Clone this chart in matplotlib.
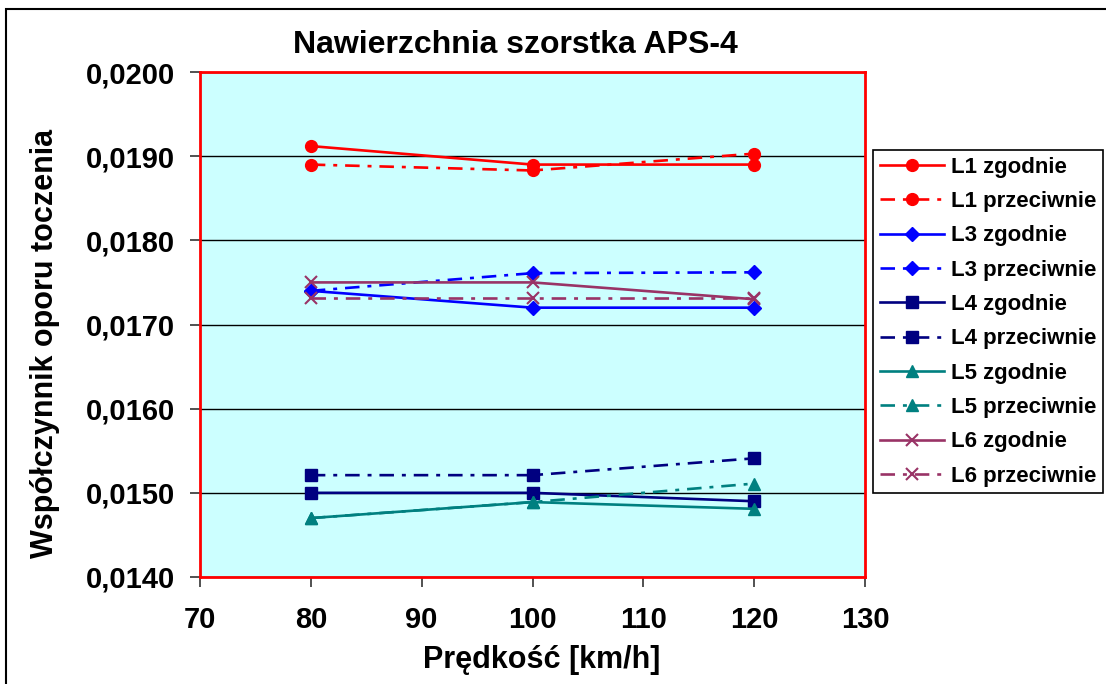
import matplotlib
matplotlib.use("Agg")
import matplotlib.pyplot as plt
from matplotlib.patches import Rectangle

plt.rcParams['font.family'] = ['Liberation Sans', 'DejaVu Sans']
plt.rcParams['font.weight'] = 'bold'

speeds = [80, 100, 120]
labels = ["L1 zgodnie", "L1 przeciwnie", "L3 zgodnie", "L3 przeciwnie",
          "L4 zgodnie", "L4 przeciwnie", "L5 zgodnie", "L5 przeciwnie",
          "L6 zgodnie", "L6 przeciwnie"]
L1_zgodnie = [0.01912, 0.01890, 0.01890]
L1_przeciwnie = [0.01890, 0.01883, 0.01903]
L3_zgodnie = [0.01740, 0.01720, 0.01720]
L3_przeciwnie = [0.01740, 0.01761, 0.01762]
L4_zgodnie = [0.01500, 0.01500, 0.01490]
L4_przeciwnie = [0.01521, 0.01521, 0.01541]
L5_zgodnie = [0.01470, 0.01489, 0.01481]
L5_przeciwnie = [0.01470, 0.01489, 0.01511]
L6_zgodnie = [0.01750, 0.01750, 0.01730]
L6_przeciwnie = [0.01731, 0.01731, 0.01731]
yticks = [0.0140, 0.0150, 0.0160, 0.0170, 0.0180, 0.0190, 0.0200]
ytick_labels = ["0,0140", "0,0150", "0,0160", "0,0170", "0,0180", "0,0190", "0,0200"]
xticks = [70, 80, 90, 100, 110, 120, 130]

series = [L1_zgodnie, L1_przeciwnie, L3_zgodnie, L3_przeciwnie, L4_zgodnie,
          L4_przeciwnie, L5_zgodnie, L5_przeciwnie, L6_zgodnie, L6_przeciwnie]
colors = ['#FF0000', '#FF0000', '#0000FF', '#0000FF', '#000080', '#000080',
          '#008080', '#008080', '#993366', '#993366']
markers = ['o', 'o', 'D', 'D', 's', 's', '^', '^', 'x', 'x']
msizes = [8.5, 8.5, 7.5, 7.5, 8.5, 8.5, 9, 9, 8, 8]
dashdot = (0, (5.5, 3, 1.5, 3))

W, H = 1106, 684
fig = plt.figure(figsize=(W / 100, H / 100), dpi=100)
fig.patch.set_facecolor('white')
fig.patches.append(Rectangle((6 / W, -0.1), 1.2, 1 - 9 / H + 0.1, transform=fig.transFigure,
                             fill=False, edgecolor='black', linewidth=1.5, zorder=0))

ax = fig.add_axes([200 / W, 1 - 577 / H, (865 - 200) / W, (577 - 72) / H])
ax.set_facecolor('#CCFFFF')

for i, (vals, lab) in enumerate(zip(series, labels)):
    ls = '-' if i % 2 == 0 else dashdot
    ax.plot(speeds, vals, color=colors[i], linestyle=ls, linewidth=1.9,
            marker=markers[i], markersize=msizes[i], markeredgewidth=1.5 if markers[i] == 'x' else 1,
            label=lab, zorder=3)

ax.set_xlim(70, 130)
ax.set_ylim(0.0140, 0.0200)
ax.set_xticks(xticks)
ax.set_xticklabels([str(x) for x in xticks])
ax.set_yticks(yticks)
ax.set_yticklabels(ytick_labels)
ax.yaxis.grid(True, color='black', linewidth=1.0)
ax.set_axisbelow(True)
for s in ax.spines.values():
    s.set_color('#FF0000')
    s.set_linewidth(2)
ax.tick_params(axis='both', direction='out', length=7, width=1.2, color='#333333',
               labelsize=21)
ax.tick_params(axis='y', pad=11)
ax.tick_params(axis='x', pad=14)
for t in ax.get_xticklabels() + ax.get_yticklabels():
    t.set_fontweight('bold')

fig.text(515 / W, 1 - 45 / H, "Nawierzchnia szorstka APS-4", ha='center', va='center',
         fontsize=23, fontweight='bold')
fig.text(542 / W, 1 - 660 / H, "Prędkość [km/h]", ha='center', va='center',
         fontsize=22, fontweight='bold')
fig.text(45 / W, 1 - 343 / H, "Współczynnik oporu toczenia", ha='center', va='center',
         rotation=90, fontsize=22, fontweight='bold')

leg = fig.legend(loc='upper left', bbox_to_anchor=(873 / W, 1 - 150 / H), frameon=True,
                 fancybox=False, edgecolor='black', framealpha=1,
                 prop={'weight': 'bold', 'size': 16}, handlelength=2.9, handletextpad=0.3,
                 labelspacing=0.6, borderpad=0.3, borderaxespad=0)
leg.get_frame().set_linewidth(1.2)

fig.savefig("out.png", dpi=100)
